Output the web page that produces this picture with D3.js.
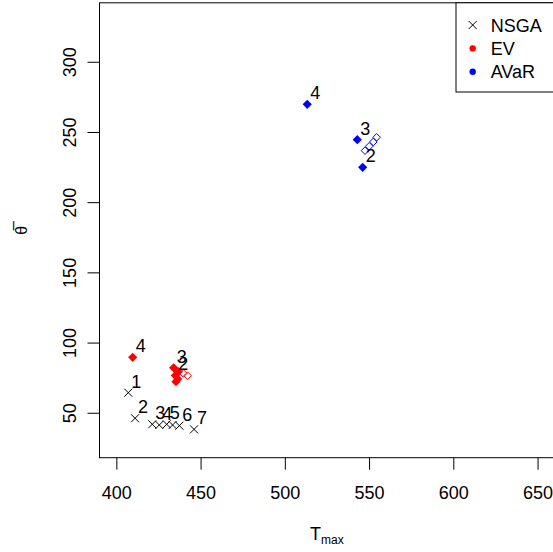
<!DOCTYPE html>
<html>
<head>
<meta charset="utf-8">
<script src="https://cdn.jsdelivr.net/npm/d3@7"></script>
<style>
  body { margin: 0; background: #fff; }
  svg { display: block; font-family: "Liberation Sans", Arial, sans-serif; }
</style>
</head>
<body>
<div id="chart"></div>
<script>
'use strict'

// axis limits as given to plot(); R pads them by 4%
const xLim = [400, 650]
const yLim = [30, 330]
const xTicks = [400, 450, 500, 550, 600, 650]
const yTicks = [50, 100, 150, 200, 250, 300]

// NSGA front (crosses)
const nsgaX = [407.1, 411.1, 421.3, 425.5, 429.9, 433.4, 437.4, 446.1]
const nsgaY = [64.3, 46.1, 41.8, 41.3, 41.8, 41.3, 40.8, 38.2]
const nsgaLab = ['1', '2', '3', '4', '5', '', '6', '7']

// EV solutions, filled and open
const evX = [434.0, 436.8, 435.0, 436.4, 435.4, 409.7]
const evY = [82.0, 79.3, 76.6, 74.1, 72.1, 89.5]
const evLab = ['3', '', '2', '', '', '4']
const evOpenX = [439.7, 442.3]
const evOpenY = [78.1, 76.4]

// AVaR solutions, filled and open
const avarX = [546.2, 543.0, 513.3]
const avarY = [224.8, 244.5, 269.7]
const avarLab = ['2', '3', '4']
const avarOpenX = [547.6, 550.1, 552.5, 554.5]
const avarOpenY = [236.7, 239.8, 242.9, 246.2]

const legendNames = ['NSGA', 'EV', 'AVaR']
const legendColors = ['#000000', '#ff0000', '#0000ff']

const W = 553, H = 552
const plot = {left: 99.5, right: 554.4, top: 2.8, bottom: 457.7}

const pad = l => [l[0] - 0.04 * (l[1] - l[0]), l[1] + 0.04 * (l[1] - l[0])]

const x = d3.scaleLinear().domain(pad(xLim)).range([plot.left, plot.right])
const y = d3.scaleLinear().domain(pad(yLim)).range([plot.bottom, plot.top])

const svg = d3.select('#chart').append('svg')
  .attr('width', W)
  .attr('height', H)

// axes
const xAxis = svg.append('g')
  .attr('transform', `translate(0,${plot.bottom})`)
  .call(d3.axisBottom(x).tickValues(xTicks).tickSize(12).tickSizeOuter(0))
xAxis.select('.domain').remove()
xAxis.selectAll('line').attr('stroke', '#000')
xAxis.selectAll('text')
  .attr('y', 41.8).attr('dy', null)
  .attr('font-size', 18).attr('font-family', null)
  .attr('fill', '#000')

const yAxis = svg.append('g')
  .attr('transform', `translate(${plot.left},0)`)
  .call(d3.axisLeft(y).tickValues(yTicks).tickSize(12).tickSizeOuter(0))
yAxis.select('.domain').remove()
yAxis.selectAll('line').attr('stroke', '#000')
yAxis.selectAll('text')
  .attr('x', null).attr('dy', null)
  .attr('transform', 'translate(-23.5,0) rotate(-90)')
  .attr('text-anchor', 'middle')
  .attr('font-size', 18).attr('font-family', null)
  .attr('fill', '#000')

// box round the plot region
svg.append('rect')
  .attr('x', plot.left).attr('y', plot.top)
  .attr('width', plot.right - plot.left)
  .attr('height', plot.bottom - plot.top)
  .attr('fill', 'none')
  .attr('stroke', '#000')

// axis titles
const xt = svg.append('text')
  .attr('x', (plot.left + plot.right) / 2)
  .attr('y', 540)
  .attr('text-anchor', 'middle')
  .attr('font-size', 18)
xt.append('tspan').text('T')
xt.append('tspan').attr('font-size', 12).attr('dy', 4).text('max')

svg.append('text')
  .attr('transform', `translate(27,${(plot.top + plot.bottom) / 2}) rotate(-90)`)
  .attr('text-anchor', 'middle')
  .attr('font-size', 16)
  .text('\u03b8\u0305')

// markers
const diamond = r => `M0,${-r}L${r},0L0,${r}L${-r},0Z`
const cross = r => `M${-r},${-r}L${r},${r}M${-r},${r}L${r},${-r}`

const marks = svg.append('g')

function drawSet(xs, ys, labs, shape, fill, stroke) {
  const data = xs.map((v, i) => ({x: v, y: ys[i], lab: labs ? labs[i] : ''}))
  marks.append('g').selectAll('path')
    .data(data)
    .join('path')
      .attr('transform', d => `translate(${x(d.x)},${y(d.y)})`)
      .attr('d', shape)
      .attr('fill', fill)
      .attr('stroke', stroke)
      .attr('stroke-width', 1)
  marks.append('g').selectAll('text')
    .data(data.filter(d => d.lab))
    .join('text')
      .attr('x', d => x(d.x) + 3)
      .attr('y', d => y(d.y) - 5)
      .attr('font-size', 18)
      .attr('fill', '#000')
      .text(d => d.lab)
}

drawSet(nsgaX, nsgaY, nsgaLab, cross(4), 'none', '#000')
drawSet(evOpenX, evOpenY, null, diamond(3.8), 'none', '#ff0000')
drawSet(evX, evY, evLab, diamond(4.6), '#ff0000', 'none')
drawSet(avarOpenX, avarOpenY, null, diamond(3.8), 'none', '#0000ff')
drawSet(avarX, avarY, avarLab, diamond(4.6), '#0000ff', 'none')

// legend, top right
const leg = svg.append('g')
leg.append('rect')
  .attr('x', 456).attr('y', plot.top)
  .attr('width', plot.right - 456)
  .attr('height', 92 - plot.top)
  .attr('fill', '#fff')
  .attr('stroke', '#000')

const rows = leg.selectAll('g.row')
  .data(legendNames)
  .join('g')
    .attr('class', 'row')
    .attr('transform', (d, i) => `translate(472.7,${25 + i * 23.35})`)
rows.filter((d, i) => i === 0).append('path')
  .attr('d', cross(4))
  .attr('stroke', '#000')
  .attr('fill', 'none')
rows.filter((d, i) => i > 0).append('circle')
  .attr('r', 3.2)
  .attr('fill', (d, i) => legendColors[i + 1])
rows.append('text')
  .attr('x', 18)
  .attr('y', 6.5)
  .attr('font-size', 18)
  .attr('fill', '#000')
  .text(d => d)
</script>
</body>
</html>
